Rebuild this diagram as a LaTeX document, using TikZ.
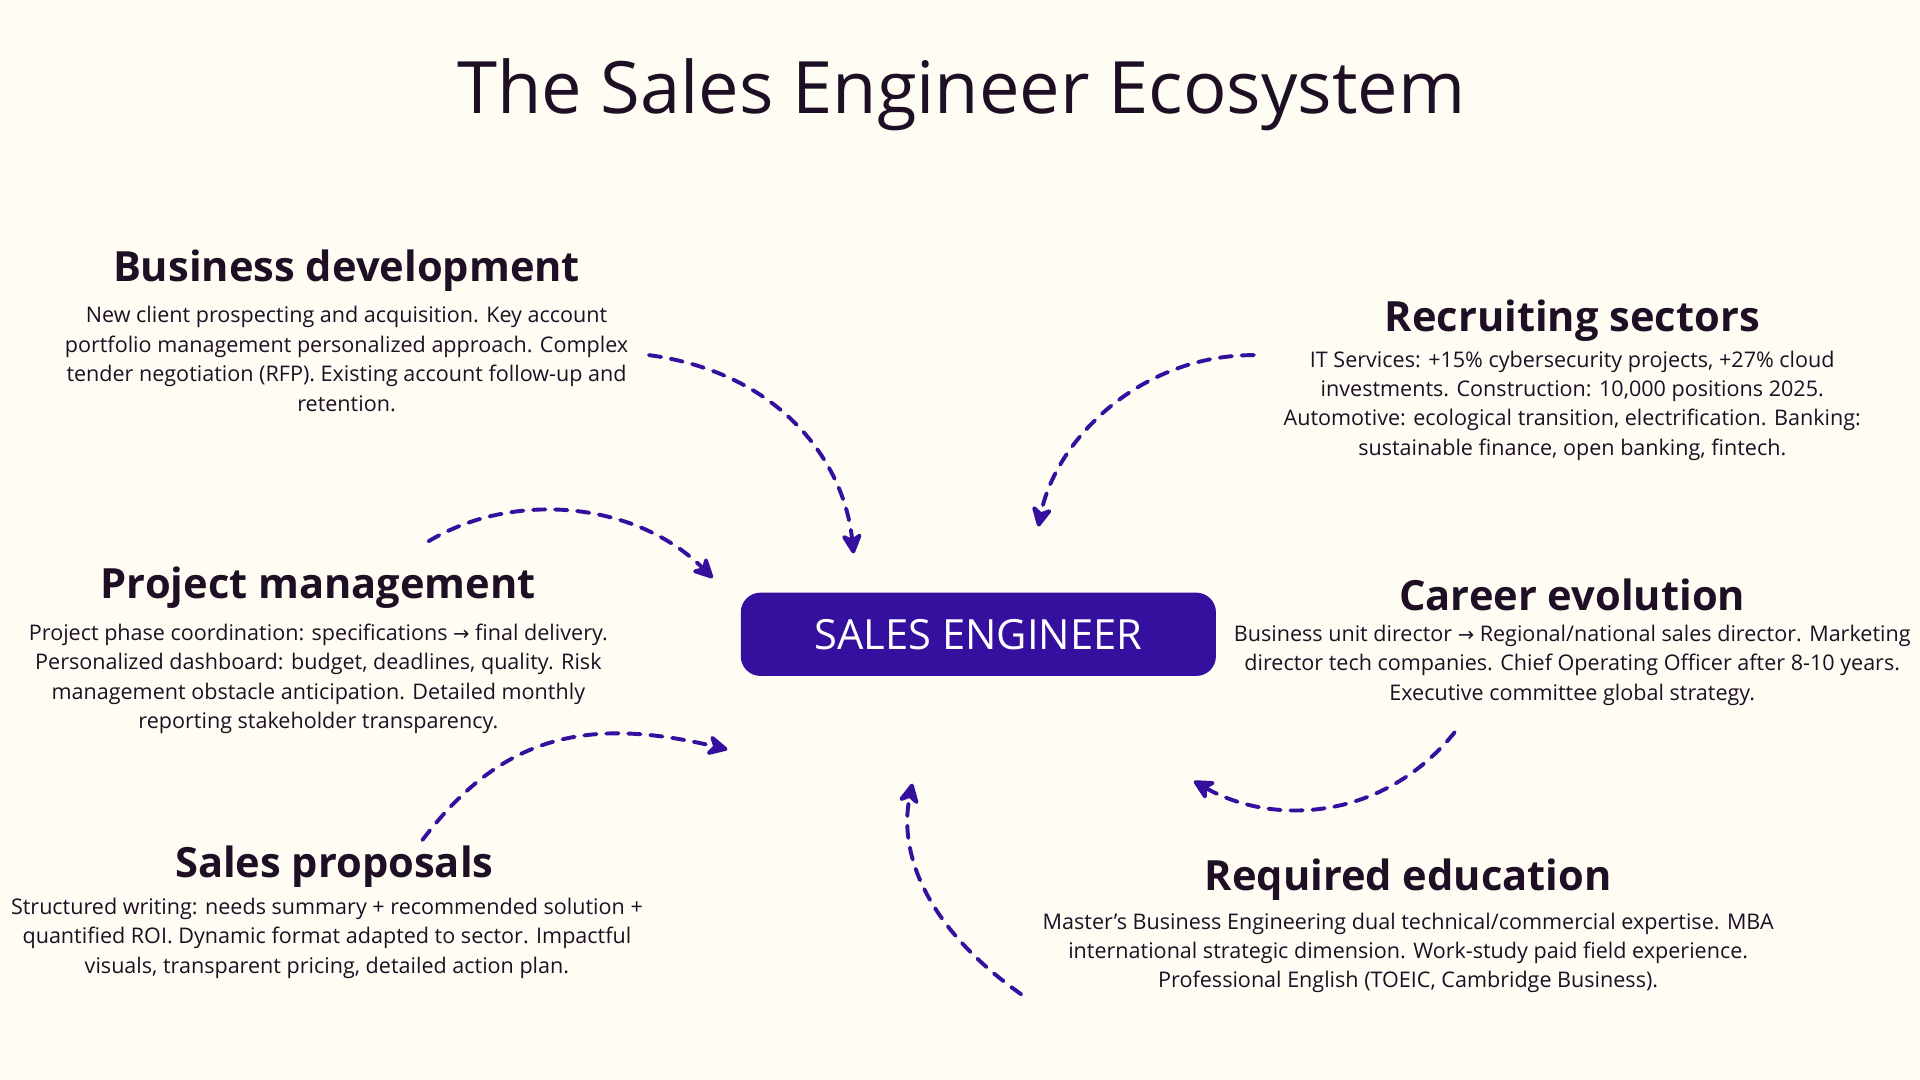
\documentclass[tikz,border=0pt]{standalone}
\usepackage{fontspec}
\setmainfont{Open Sans}
\newfontfamily\symf{DejaVu Sans}
\newcommand{\rarr}{{\symf\fontsize{8}{12}\selectfont →}}
\usetikzlibrary{arrows.meta}
\definecolor{bg}{HTML}{FFFCF3}
\definecolor{ink}{HTML}{1E0F24}
\definecolor{indi}{HTML}{35109E}
\tikzset{
 head/.style={font=\fontsize{17}{20}\selectfont\bfseries, text=ink, inner sep=0pt},
 body/.style={font=\fontsize{8.8}{12}\selectfont, text=ink, align=center, inner sep=0pt},
 conn/.style={draw=indi, line width=1.6pt, dash pattern=on 5pt off 4pt, line cap=round, -{Stealth[round,length=10pt,width=10pt,inset=3pt]}}
}
\begin{document}
\begin{tikzpicture}[x=0.5pt,y=-0.5pt]
\fill[bg] (0,0) rectangle (1568,882);
\useasboundingbox (0,0) rectangle (1568,882);
\node[text=ink, font=\fontsize{29.5}{34}\selectfont, inner sep=0pt] (title) at (785,77) {The Sales Engineer Ecosystem};
\node[fill=indi, rounded corners=8pt, minimum width=194pt, minimum height=34pt, text=white, font=\fontsize{17}{20}\selectfont, inner sep=0pt] (se) at (799,518) {SALES ENGINEER};

\node[head] (bdh) at (283,221) {Business development};
\node[body, anchor=north] (bdb) at (283,250) {New client prospecting and acquisition. Key account\\portfolio management personalized approach. Complex\\tender negotiation (RFP). Existing account follow-up and\\retention.};
\node[head] (rsh) at (1284,262) {Recruiting sectors};
\node[body, anchor=north] (rsb) at (1284,286) {IT Services: +15\% cybersecurity projects, +27\% cloud\\investments. Construction: 10,000 positions 2025.\\Automotive: ecological transition, electrification. Banking:\\sustainable finance, open banking, fintech.};
\node[head] (pmh) at (260,480) {Project management};
\node[body, anchor=north] (pmb) at (260,509) {Project phase coordination: specifications \rarr{} final delivery.\\Personalized dashboard: budget, deadlines, quality. Risk\\management obstacle anticipation. Detailed monthly\\reporting stakeholder transparency.};
\node[head] (ceh) at (1284,486) {Career evolution};
\node[body, anchor=north] (ceb) at (1284,510) {Business unit director \rarr{} Regional/national sales director. Marketing\\director tech companies. Chief Operating Officer after 8-10 years.\\Executive committee global strategy.};
\node[head] (sph) at (273,708) {Sales proposals};
\node[body, anchor=north] (spb) at (267,733) {Structured writing: needs summary + recommended solution +\\quantified ROI. Dynamic format adapted to sector. Impactful\\visuals, transparent pricing, detailed action plan.};
\node[head] (reh) at (1150,718) {Required education};
\node[body, anchor=north] (reb) at (1150,745) {Master{\char"27}s Business Engineering dual technical/commercial expertise. MBA\\international strategic dimension. Work-study paid field experience.\\Professional English (TOEIC, Cambridge Business).};

\coordinate (a1) at (530,290); \coordinate (b1) at (697,452);
\coordinate (a2) at (1024,290); \coordinate (b2) at (848,430);
\coordinate (a3) at (350,442); \coordinate (b3) at (582,472);
\coordinate (a4) at (345,686); \coordinate (b4) at (594,612);
\coordinate (a5) at (1188,598); \coordinate (b5) at (975,638);
\coordinate (a6) at (834,812); \coordinate (b6) at (745,640);
\draw[conn] (a1) .. controls (640,305) and (690,380) .. (b1);
\draw[conn] (a2) .. controls (930,290) and (862,360) .. (b2);
\draw[conn] (a3) .. controls (420,400) and (520,410) .. (b3);
\draw[conn] (a4) .. controls (410,600) and (480,585) .. (b4);
\draw[conn] (a5) .. controls (1130,670) and (1040,675) .. (b5);
\draw[conn] (a6) .. controls (760,760) and (733,700) .. (b6);
\end{tikzpicture}
\end{document}
